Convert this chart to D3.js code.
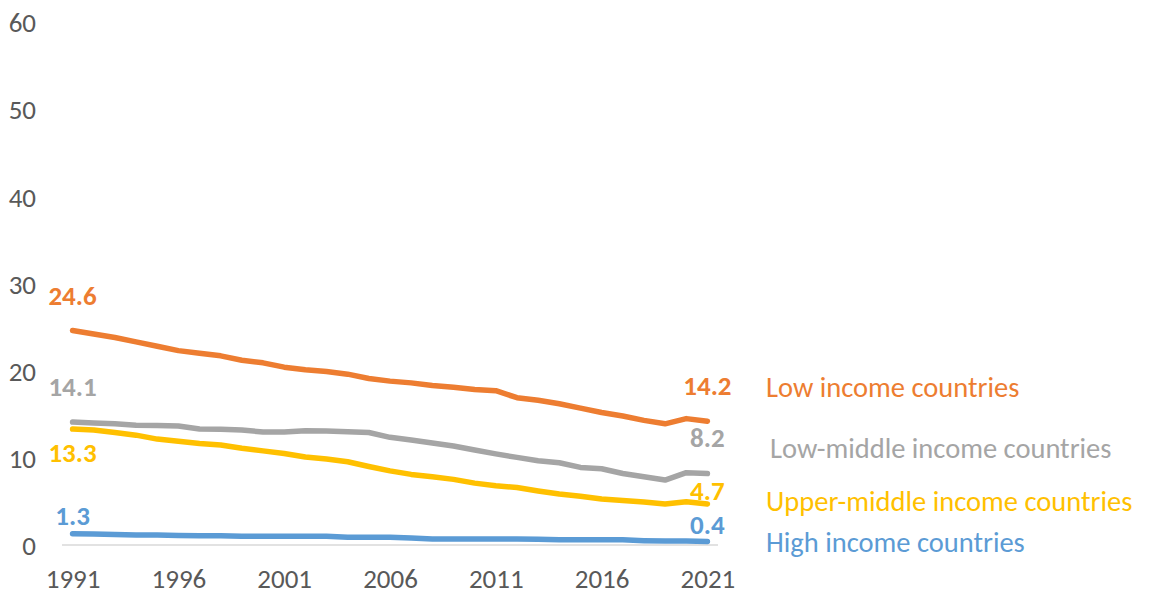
<!DOCTYPE html>
<html>
<head>
<meta charset="utf-8">
<script src="https://cdn.jsdelivr.net/npm/d3@7"></script>
<style>
  body { margin: 0; background: #fff; }
  text { font-family: Carlito, Calibri, Lato, sans-serif; }
</style>
</head>
<body>
<script>
// years on the x axis
var years = d3.range(1991, 2022);

// series values, one per year 1991-2021
var lowIncome = [24.6, 24.2, 23.8, 23.3, 22.8, 22.3, 22.0, 21.7, 21.2, 20.9, 20.4,
                 20.1, 19.9, 19.6, 19.1, 18.8, 18.6, 18.3, 18.1, 17.85, 17.7,
                 16.9, 16.6, 16.2, 15.7, 15.2, 14.8, 14.3, 13.9, 14.5, 14.2];
var lowMiddle = [14.1, 14.0, 13.9, 13.75, 13.7, 13.65, 13.3, 13.27, 13.2, 12.96, 12.96,
                 13.1, 13.07, 13.0, 12.9, 12.35, 12.04, 11.7, 11.35, 10.9, 10.45,
                 10.05, 9.67, 9.44, 8.9, 8.75, 8.2, 7.83, 7.45, 8.3, 8.2];
var upperMiddle = [13.3, 13.2, 12.9, 12.6, 12.15, 11.9, 11.65, 11.47, 11.1, 10.8, 10.5,
                   10.1, 9.86, 9.55, 9.0, 8.5, 8.1, 7.83, 7.53, 7.1, 6.8,
                   6.6, 6.2, 5.85, 5.6, 5.27, 5.1, 4.93, 4.7, 4.97, 4.7];
var highIncome = [1.3, 1.25, 1.2, 1.15, 1.15, 1.1, 1.05, 1.05, 1.0, 1.0, 1.0,
                  1.0, 1.0, 0.9, 0.9, 0.9, 0.8, 0.7, 0.7, 0.7, 0.7,
                  0.7, 0.65, 0.6, 0.6, 0.6, 0.6, 0.5, 0.45, 0.45, 0.4];

var seriesNames = ["Low income countries", "Low-middle income countries",
                   "Upper-middle income countries", "High income countries"];
var yTicks = [0, 10, 20, 30, 40, 50, 60];
var xTicks = [1991, 1996, 2001, 2006, 2011, 2016, 2021];

// styling / layout (not data)
var colors = ["#ED7D31", "#A5A5A5", "#FFC000", "#5B9BD5"];
var startLabelDy = [-26, -26, 33, -9];   // offset of first-year label from line
var endLabelDy = [-26, -27, -4, -8];     // offset of last-year label from line
var legendX = 766;
var legendY = [397, 458, 511, 552];

var w = 1151, h = 594;
var margin = {top: 22, right: 433, bottom: 49, left: 62};

var svg = d3.select("body").append("svg")
    .attr("width", w)
    .attr("height", h);

var x = d3.scalePoint()
    .domain(years)
    .range([margin.left, w - margin.right])
    .padding(0.5);

var y = d3.scaleLinear()
    .domain([0, 60])
    .range([h - margin.bottom, margin.top]);

// y axis labels (no axis line, no ticks)
svg.append("g")
    .attr("transform", "translate(36,0)")
    .call(d3.axisLeft(y).tickValues(yTicks).tickSize(0).tickPadding(0))
    .call(function(g) {
        g.select(".domain").remove();
        g.selectAll("text")
            .attr("fill", "#595959")
            .attr("font-size", "27px")
            .attr("font-family", "Carlito, Calibri, Lato, sans-serif")
            .attr("dy", "0.36em");
    });

// x axis: light baseline + year labels
svg.append("line")
    .attr("x1", margin.left)
    .attr("x2", w - margin.right)
    .attr("y1", y(0))
    .attr("y2", y(0))
    .attr("stroke", "#d9d9d9")
    .attr("stroke-width", 1.5);

svg.append("g")
    .attr("transform", "translate(0," + y(0) + ")")
    .call(d3.axisBottom(x).tickValues(xTicks).tickSize(0).tickPadding(0))
    .call(function(g) {
        g.select(".domain").remove();
        g.selectAll("text")
            .attr("fill", "#595959")
            .attr("font-size", "27px")
            .attr("font-family", "Carlito, Calibri, Lato, sans-serif")
            .attr("dy", null)
            .attr("y", 43);
    });

var allSeries = [lowIncome, lowMiddle, upperMiddle, highIncome];

var line = d3.line()
    .x(function(d, i) { return x(years[i]); })
    .y(function(d) { return y(d); });

svg.selectAll("path.series")
    .data(allSeries)
    .enter()
    .append("path")
    .attr("class", "series")
    .attr("d", line)
    .attr("fill", "none")
    .attr("stroke", function(d, i) { return colors[i]; })
    .attr("stroke-width", 5.5)
    .attr("stroke-linecap", "round")
    .attr("stroke-linejoin", "round");

// first and last value labels
var first = years[0], last = years[years.length - 1];

svg.selectAll("text.startLabel")
    .data(allSeries)
    .enter()
    .append("text")
    .attr("class", "startLabel")
    .text(function(d) { return d3.format(".1f")(d[0]); })
    .attr("x", x(first))
    .attr("y", function(d, i) { return y(d[0]) + startLabelDy[i]; })
    .attr("text-anchor", "middle")
    .attr("font-size", "27px")
    .attr("font-weight", "bold")
    .attr("fill", function(d, i) { return colors[i]; });

svg.selectAll("text.endLabel")
    .data(allSeries)
    .enter()
    .append("text")
    .attr("class", "endLabel")
    .text(function(d) { return d3.format(".1f")(d[d.length - 1]); })
    .attr("x", x(last))
    .attr("y", function(d, i) { return y(d[d.length - 1]) + endLabelDy[i]; })
    .attr("text-anchor", "middle")
    .attr("font-size", "27px")
    .attr("font-weight", "bold")
    .attr("fill", function(d, i) { return colors[i]; });

// series names on the right
svg.selectAll("text.legend")
    .data(seriesNames)
    .enter()
    .append("text")
    .attr("class", "legend")
    .text(function(d) { return d; })
    .attr("x", function(d, i) { return i == 1 ? legendX + 4 : legendX; })
    .attr("y", function(d, i) { return legendY[i]; })
    .attr("font-size", "28.5px")
    .attr("fill", function(d, i) { return colors[i]; });
</script>
</body>
</html>
